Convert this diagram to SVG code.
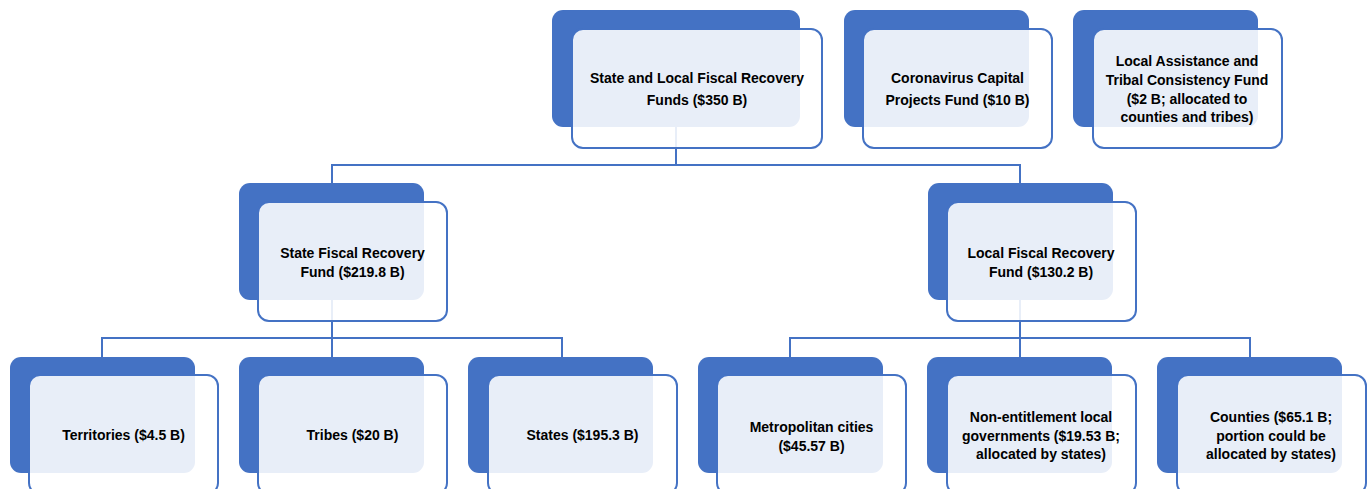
<svg xmlns="http://www.w3.org/2000/svg" width="1370" height="489" viewBox="0 0 1370 489">
<style>
.bk{fill:#4472C4;}
.fr{fill:#FFFFFF;fill-opacity:0.88;stroke:#4472C4;stroke-width:2;}
.cn{fill:none;stroke:#4472C4;stroke-width:2;}
text{font-family:"Liberation Sans",Arial,sans-serif;font-weight:bold;font-size:14px;fill:#000;text-anchor:middle;}
</style>
<rect width="1370" height="489" fill="#FFFFFF"/>
<g id="connectors">
<path class="cn" d="M676 120 V165 M332 183 V165 H1020 V183"/>
<path class="cn" d="M332 290 V357 M102 357 V338 H562 V357"/>
<path class="cn" d="M1020 290 V357 M790 357 V338 H1250 V357"/>
</g>
<g id="n-slfrf">
<rect class="bk" x="552" y="10" width="248" height="117" rx="11"/>
<rect class="fr" x="572" y="29" width="250" height="119" rx="11"/>
<text x="697" y="83">State and Local Fiscal Recovery</text>
<text x="697" y="105">Funds ($350 B)</text>
</g>
<g id="n-ccpf">
<rect class="bk" x="844" y="10" width="185" height="117" rx="11"/>
<rect class="fr" x="863" y="29" width="189" height="119" rx="11"/>
<text x="957.5" y="83">Coronavirus Capital</text>
<text x="957.5" y="105">Projects Fund ($10 B)</text>
</g>
<g id="n-latcf">
<rect class="bk" x="1073" y="10" width="185" height="117" rx="11"/>
<rect class="fr" x="1093" y="29" width="189" height="119" rx="11"/>
<text x="1187" y="66">Local Assistance and</text>
<text x="1187" y="85">Tribal Consistency Fund</text>
<text x="1187" y="104">($2 B; allocated to</text>
<text x="1187" y="122">counties and tribes)</text>
</g>
<g id="n-sfrf">
<rect class="bk" x="239" y="183" width="185" height="117" rx="11"/>
<rect class="fr" x="258" y="202" width="189" height="119" rx="11"/>
<text x="352.5" y="258">State Fiscal Recovery</text>
<text x="352.5" y="277">Fund ($219.8 B)</text>
</g>
<g id="n-lfrf">
<rect class="bk" x="928" y="183" width="185" height="117" rx="11"/>
<rect class="fr" x="947" y="202" width="189" height="119" rx="11"/>
<text x="1041" y="258">Local Fiscal Recovery</text>
<text x="1041" y="277">Fund ($130.2 B)</text>
</g>
<g id="n-territories">
<rect class="bk" x="10" y="357" width="185" height="116" rx="11"/>
<rect class="fr" x="29" y="375" width="189" height="119" rx="11"/>
<text x="123.5" y="440">Territories ($4.5 B)</text>
</g>
<g id="n-tribes">
<rect class="bk" x="239" y="357" width="185" height="116" rx="11"/>
<rect class="fr" x="258" y="375" width="189" height="119" rx="11"/>
<text x="352.5" y="440">Tribes ($20 B)</text>
</g>
<g id="n-states">
<rect class="bk" x="468" y="357" width="185" height="116" rx="11"/>
<rect class="fr" x="488" y="375" width="189" height="119" rx="11"/>
<text x="582.5" y="440">States ($195.3 B)</text>
</g>
<g id="n-metro">
<rect class="bk" x="698" y="357" width="185" height="116" rx="11"/>
<rect class="fr" x="717" y="375" width="189" height="119" rx="11"/>
<text x="811.5" y="432">Metropolitan cities</text>
<text x="811.5" y="451">($45.57 B)</text>
</g>
<g id="n-nonent">
<rect class="bk" x="927" y="357" width="185" height="116" rx="11"/>
<rect class="fr" x="947" y="375" width="189" height="119" rx="11"/>
<text x="1041" y="422">Non-entitlement local</text>
<text x="1041" y="441">governments ($19.53 B;</text>
<text x="1041" y="459">allocated by states)</text>
</g>
<g id="n-counties">
<rect class="bk" x="1157" y="357" width="185" height="116" rx="11"/>
<rect class="fr" x="1177" y="375" width="189" height="119" rx="11"/>
<text x="1271" y="422">Counties ($65.1 B;</text>
<text x="1271" y="441">portion could be</text>
<text x="1271" y="459">allocated by states)</text>
</g>
</svg>
